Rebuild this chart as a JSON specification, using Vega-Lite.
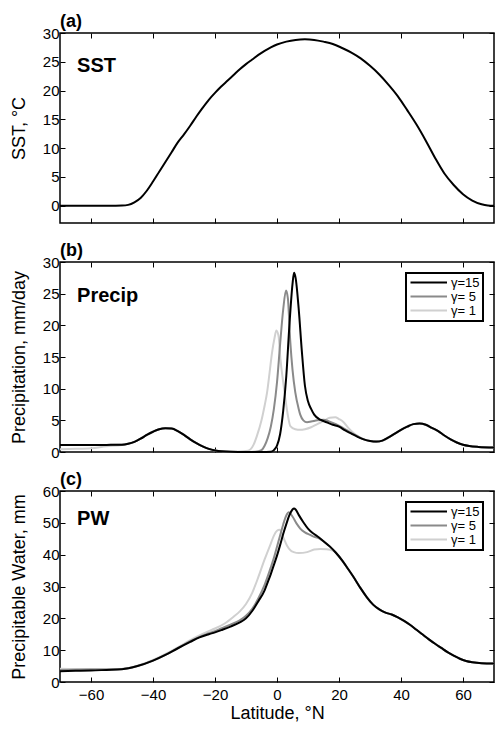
{
  "$schema": "https://vega.github.io/schema/vega-lite/v6.json",
  "background": "white",
  "padding": {"left": 9, "top": 12, "right": 1, "bottom": 2},
  "spacing": 39,
  "bounds": "flush",
  "config": {
    "font": "Liberation Sans",
    "view": {"stroke": "black", "strokeWidth": 1.5},
    "axis": {"grid": false, "domain": false, "tickColor": "black", "tickSize": -5, "tickWidth": 1, "labelColor": "black", "labelFontSize": 15, "titleFontSize": 18, "titleFontWeight": "normal", "titleColor": "black", "labelFont": "Liberation Sans", "titleFont": "Liberation Sans", "labelPadding": 6, "titlePadding": 14},
    "title": {"anchor": "start", "fontSize": 18, "fontWeight": "bold", "font": "Liberation Sans", "offset": -5, "frame": "group", "color": "black"},
    "legend": {"orient": "top-right", "offset": 11, "title": null, "strokeColor": "black", "strokeWidth": 2, "padding": 3, "labelFontSize": 13, "labelFont": "Liberation Sans", "labelColor": "black", "rowPadding": 0, "symbolType": "M-1,0H6.3", "symbolSize": 100, "symbolStrokeWidth": 2, "labelOffset": 29}
  },
  "datasets": {
    "sst": [
      {"lat":-70,"sst":0},{"lat":-60,"sst":0},{"lat":-52,"sst":0},{"lat":-50,"sst":0.02},{"lat":-48,"sst":0.15},{"lat":-46,"sst":0.6},{"lat":-44,"sst":1.35},{"lat":-42,"sst":2.6},{"lat":-40,"sst":4.2},{"lat":-38,"sst":5.9},{"lat":-36,"sst":7.6},{"lat":-34,"sst":9.3},{"lat":-32,"sst":11.0},{"lat":-30,"sst":12.4},{"lat":-28,"sst":13.9},{"lat":-26,"sst":15.5},{"lat":-24,"sst":17.0},{"lat":-22,"sst":18.4},{"lat":-20,"sst":19.6},{"lat":-18,"sst":20.7},{"lat":-16,"sst":21.7},{"lat":-14,"sst":22.7},{"lat":-12,"sst":23.7},{"lat":-10,"sst":24.6},{"lat":-8,"sst":25.4},{"lat":-6,"sst":26.2},{"lat":-4,"sst":26.9},{"lat":-2,"sst":27.5},{"lat":0,"sst":28.0},{"lat":3,"sst":28.5},{"lat":6,"sst":28.8},{"lat":9,"sst":28.9},{"lat":12,"sst":28.8},{"lat":15,"sst":28.5},{"lat":18,"sst":28.1},{"lat":21,"sst":27.4},{"lat":24,"sst":26.6},{"lat":27,"sst":25.6},{"lat":30,"sst":24.3},{"lat":33,"sst":22.8},{"lat":36,"sst":21.0},{"lat":39,"sst":19.0},{"lat":42,"sst":16.6},{"lat":45,"sst":14.1},{"lat":48,"sst":11.3},{"lat":51,"sst":8.3},{"lat":54,"sst":5.6},{"lat":57,"sst":3.6},{"lat":60,"sst":2.0},{"lat":63,"sst":0.9},{"lat":66,"sst":0.25},{"lat":68,"sst":0.05},{"lat":70,"sst":0}
    ],
    "precip": [
      {"g":"γ= 1","lat":-70,"v":0.45},{"g":"γ= 1","lat":-65,"v":0.5},{"g":"γ= 1","lat":-60,"v":0.6},{"g":"γ= 1","lat":-55,"v":0.9},{"g":"γ= 1","lat":-50,"v":1.12},{"g":"γ= 1","lat":-48,"v":1.3},{"g":"γ= 1","lat":-46,"v":1.6},{"g":"γ= 1","lat":-44,"v":2.1},{"g":"γ= 1","lat":-42,"v":2.7},{"g":"γ= 1","lat":-40,"v":3.2},{"g":"γ= 1","lat":-38,"v":3.6},{"g":"γ= 1","lat":-36,"v":3.75},{"g":"γ= 1","lat":-34,"v":3.7},{"g":"γ= 1","lat":-32,"v":3.3},{"g":"γ= 1","lat":-30,"v":2.7},{"g":"γ= 1","lat":-28,"v":2.0},{"g":"γ= 1","lat":-26,"v":1.4},{"g":"γ= 1","lat":-24,"v":0.9},{"g":"γ= 1","lat":-22,"v":0.5},{"g":"γ= 1","lat":-20,"v":0.25},{"g":"γ= 1","lat":-18,"v":0.15},{"g":"γ= 1","lat":-15,"v":0.05},{"g":"γ= 1","lat":-12,"v":0.08},{"g":"γ= 1","lat":-10,"v":0.15},{"g":"γ= 1","lat":-8.6,"v":0.4},{"g":"γ= 1","lat":-7.5,"v":1.2},{"g":"γ= 1","lat":-6.5,"v":2.5},{"g":"γ= 1","lat":-5,"v":5},{"g":"γ= 1","lat":-4,"v":7.3},{"g":"γ= 1","lat":-3.2,"v":9.4},{"g":"γ= 1","lat":-2.4,"v":12.5},{"g":"γ= 1","lat":-1.6,"v":15.7},{"g":"γ= 1","lat":-0.8,"v":18},{"g":"γ= 1","lat":-0.2,"v":19.2},{"g":"γ= 1","lat":0.5,"v":18.3},{"g":"γ= 1","lat":1.1,"v":14.7},{"g":"γ= 1","lat":2,"v":11},{"g":"γ= 1","lat":2.7,"v":8.4},{"g":"γ= 1","lat":3.5,"v":5.8},{"g":"γ= 1","lat":4.3,"v":4.1},{"g":"γ= 1","lat":5.9,"v":3.6},{"g":"γ= 1","lat":7.5,"v":3.5},{"g":"γ= 1","lat":9,"v":3.6},{"g":"γ= 1","lat":11,"v":3.9},{"g":"γ= 1","lat":13,"v":4.4},{"g":"γ= 1","lat":15,"v":4.9},{"g":"γ= 1","lat":17,"v":5.4},{"g":"γ= 1","lat":18.8,"v":5.5},{"g":"γ= 1","lat":20,"v":5.2},{"g":"γ= 1","lat":21.5,"v":4.7},{"g":"γ= 1","lat":23,"v":3.8},{"g":"γ= 1","lat":24.7,"v":3.0},{"g":"γ= 1","lat":26,"v":2.5},{"g":"γ= 1","lat":28,"v":2.0},{"g":"γ= 1","lat":30,"v":1.75},{"g":"γ= 1","lat":32,"v":1.6},{"g":"γ= 1","lat":34,"v":1.8},{"g":"γ= 1","lat":36,"v":2.3},{"g":"γ= 1","lat":38,"v":2.9},{"g":"γ= 1","lat":40,"v":3.5},{"g":"γ= 1","lat":42,"v":4.0},{"g":"γ= 1","lat":44,"v":4.4},{"g":"γ= 1","lat":46,"v":4.5},{"g":"γ= 1","lat":48,"v":4.3},{"g":"γ= 1","lat":50,"v":3.8},{"g":"γ= 1","lat":52,"v":3.3},{"g":"γ= 1","lat":54,"v":2.6},{"g":"γ= 1","lat":56,"v":2.0},{"g":"γ= 1","lat":58,"v":1.5},{"g":"γ= 1","lat":60,"v":1.15},{"g":"γ= 1","lat":62,"v":0.95},{"g":"γ= 1","lat":65,"v":0.8},{"g":"γ= 1","lat":70,"v":0.7},
      {"g":"γ= 5","lat":-70,"v":1.1},{"g":"γ= 5","lat":-60,"v":1.1},{"g":"γ= 5","lat":-50,"v":1.15},{"g":"γ= 5","lat":-48,"v":1.3},{"g":"γ= 5","lat":-46,"v":1.6},{"g":"γ= 5","lat":-44,"v":2.1},{"g":"γ= 5","lat":-42,"v":2.7},{"g":"γ= 5","lat":-40,"v":3.2},{"g":"γ= 5","lat":-38,"v":3.6},{"g":"γ= 5","lat":-36,"v":3.75},{"g":"γ= 5","lat":-34,"v":3.7},{"g":"γ= 5","lat":-32,"v":3.3},{"g":"γ= 5","lat":-30,"v":2.7},{"g":"γ= 5","lat":-28,"v":2.0},{"g":"γ= 5","lat":-26,"v":1.4},{"g":"γ= 5","lat":-24,"v":0.9},{"g":"γ= 5","lat":-22,"v":0.5},{"g":"γ= 5","lat":-20,"v":0.25},{"g":"γ= 5","lat":-18,"v":0.1},{"g":"γ= 5","lat":-15,"v":0.03},{"g":"γ= 5","lat":-10,"v":0},{"g":"γ= 5","lat":-7,"v":0.05},{"g":"γ= 5","lat":-5,"v":0.3},{"g":"γ= 5","lat":-4,"v":1.0},{"g":"γ= 5","lat":-3,"v":2.2},{"g":"γ= 5","lat":-2,"v":4.0},{"g":"γ= 5","lat":-1,"v":6.8},{"g":"γ= 5","lat":0,"v":11},{"g":"γ= 5","lat":1,"v":17},{"g":"γ= 5","lat":2,"v":22.5},{"g":"γ= 5","lat":2.9,"v":25.5},{"g":"γ= 5","lat":3.5,"v":24.3},{"g":"γ= 5","lat":4.3,"v":17.3},{"g":"γ= 5","lat":5,"v":13},{"g":"γ= 5","lat":5.9,"v":9.4},{"g":"γ= 5","lat":7,"v":6.8},{"g":"γ= 5","lat":7.5,"v":5.9},{"g":"γ= 5","lat":8.5,"v":5.0},{"g":"γ= 5","lat":9.7,"v":4.7},{"g":"γ= 5","lat":11,"v":4.8},{"g":"γ= 5","lat":13,"v":5.0},{"g":"γ= 5","lat":15,"v":5.1},{"g":"γ= 5","lat":17,"v":4.8},{"g":"γ= 5","lat":19,"v":4.4},{"g":"γ= 5","lat":21,"v":3.9},{"g":"γ= 5","lat":24,"v":3.0},{"g":"γ= 5","lat":26,"v":2.5},{"g":"γ= 5","lat":28,"v":2.0},{"g":"γ= 5","lat":30,"v":1.75},{"g":"γ= 5","lat":32,"v":1.62},{"g":"γ= 5","lat":34,"v":1.8},{"g":"γ= 5","lat":36,"v":2.3},{"g":"γ= 5","lat":38,"v":2.9},{"g":"γ= 5","lat":40,"v":3.5},{"g":"γ= 5","lat":42,"v":4.0},{"g":"γ= 5","lat":44,"v":4.4},{"g":"γ= 5","lat":46,"v":4.5},{"g":"γ= 5","lat":48,"v":4.3},{"g":"γ= 5","lat":50,"v":3.8},{"g":"γ= 5","lat":52,"v":3.3},{"g":"γ= 5","lat":54,"v":2.6},{"g":"γ= 5","lat":56,"v":2.0},{"g":"γ= 5","lat":58,"v":1.5},{"g":"γ= 5","lat":60,"v":1.15},{"g":"γ= 5","lat":62,"v":0.95},{"g":"γ= 5","lat":65,"v":0.8},{"g":"γ= 5","lat":70,"v":0.7},
      {"g":"γ=15","lat":-70,"v":1.1},{"g":"γ=15","lat":-65,"v":1.1},{"g":"γ=15","lat":-60,"v":1.1},{"g":"γ=15","lat":-55,"v":1.12},{"g":"γ=15","lat":-50,"v":1.15},{"g":"γ=15","lat":-48,"v":1.3},{"g":"γ=15","lat":-46,"v":1.6},{"g":"γ=15","lat":-44,"v":2.1},{"g":"γ=15","lat":-42,"v":2.7},{"g":"γ=15","lat":-40,"v":3.2},{"g":"γ=15","lat":-38,"v":3.6},{"g":"γ=15","lat":-36,"v":3.75},{"g":"γ=15","lat":-34,"v":3.7},{"g":"γ=15","lat":-32,"v":3.3},{"g":"γ=15","lat":-30,"v":2.7},{"g":"γ=15","lat":-28,"v":2.0},{"g":"γ=15","lat":-26,"v":1.4},{"g":"γ=15","lat":-24,"v":0.9},{"g":"γ=15","lat":-22,"v":0.5},{"g":"γ=15","lat":-20,"v":0.25},{"g":"γ=15","lat":-18,"v":0.1},{"g":"γ=15","lat":-15,"v":0.03},{"g":"γ=15","lat":-10,"v":0},{"g":"γ=15","lat":-5,"v":0},{"g":"γ=15","lat":-2,"v":0.05},{"g":"γ=15","lat":-1,"v":0.3},{"g":"γ=15","lat":0,"v":1.0},{"g":"γ=15","lat":1,"v":2.8},{"g":"γ=15","lat":2,"v":6.5},{"g":"γ=15","lat":3,"v":12},{"g":"γ=15","lat":4,"v":20},{"g":"γ=15","lat":5,"v":26.5},{"g":"γ=15","lat":5.5,"v":28.3},{"g":"γ=15","lat":6,"v":27.5},{"g":"γ=15","lat":7,"v":22.6},{"g":"γ=15","lat":8,"v":16},{"g":"γ=15","lat":9,"v":10.5},{"g":"γ=15","lat":10,"v":8},{"g":"γ=15","lat":11,"v":6.8},{"g":"γ=15","lat":12,"v":5.9},{"g":"γ=15","lat":14,"v":5.1},{"g":"γ=15","lat":16,"v":4.7},{"g":"γ=15","lat":18,"v":4.3},{"g":"γ=15","lat":20,"v":4.0},{"g":"γ=15","lat":22,"v":3.4},{"g":"γ=15","lat":24,"v":2.9},{"g":"γ=15","lat":26,"v":2.4},{"g":"γ=15","lat":28,"v":2.0},{"g":"γ=15","lat":30,"v":1.75},{"g":"γ=15","lat":32,"v":1.65},{"g":"γ=15","lat":34,"v":1.8},{"g":"γ=15","lat":36,"v":2.3},{"g":"γ=15","lat":38,"v":2.9},{"g":"γ=15","lat":40,"v":3.5},{"g":"γ=15","lat":42,"v":4.0},{"g":"γ=15","lat":44,"v":4.4},{"g":"γ=15","lat":46,"v":4.5},{"g":"γ=15","lat":48,"v":4.3},{"g":"γ=15","lat":50,"v":3.8},{"g":"γ=15","lat":52,"v":3.3},{"g":"γ=15","lat":54,"v":2.6},{"g":"γ=15","lat":56,"v":2.0},{"g":"γ=15","lat":58,"v":1.5},{"g":"γ=15","lat":60,"v":1.15},{"g":"γ=15","lat":62,"v":0.95},{"g":"γ=15","lat":65,"v":0.8},{"g":"γ=15","lat":70,"v":0.7}
    ],
    "pw": [
      {"g":"γ= 1","lat":-70,"v":4.2},{"g":"γ= 1","lat":-60,"v":4.1},{"g":"γ= 1","lat":-50,"v":4.1},{"g":"γ= 1","lat":-45,"v":5.1},{"g":"γ= 1","lat":-40,"v":6.9},{"g":"γ= 1","lat":-35,"v":9.3},{"g":"γ= 1","lat":-30,"v":12.0},{"g":"γ= 1","lat":-26,"v":14.2},{"g":"γ= 1","lat":-22,"v":16.0},{"g":"γ= 1","lat":-20,"v":16.8},{"g":"γ= 1","lat":-17,"v":18.3},{"g":"γ= 1","lat":-14,"v":20.5},{"g":"γ= 1","lat":-12,"v":22.2},{"g":"γ= 1","lat":-10,"v":24.5},{"g":"γ= 1","lat":-8,"v":28},{"g":"γ= 1","lat":-6,"v":33},{"g":"γ= 1","lat":-4,"v":38.5},{"g":"γ= 1","lat":-2,"v":43.5},{"g":"γ= 1","lat":-1,"v":46},{"g":"γ= 1","lat":0,"v":47.5},{"g":"γ= 1","lat":0.8,"v":47.8},{"g":"γ= 1","lat":2,"v":45.5},{"g":"γ= 1","lat":3.2,"v":42.9},{"g":"γ= 1","lat":4.5,"v":41.2},{"g":"γ= 1","lat":5.4,"v":40.8},{"g":"γ= 1","lat":7,"v":40.5},{"g":"γ= 1","lat":9.7,"v":40.8},{"g":"γ= 1","lat":12,"v":41.6},{"g":"γ= 1","lat":14,"v":41.8},{"g":"γ= 1","lat":16,"v":41.7},{"g":"γ= 1","lat":18,"v":41.3},{"g":"γ= 1","lat":19,"v":40.6},{"g":"γ= 1","lat":21,"v":38.2},{"g":"γ= 1","lat":23,"v":35.4},{"g":"γ= 1","lat":25,"v":32.5},{"g":"γ= 1","lat":27,"v":29.4},{"g":"γ= 1","lat":29,"v":26.6},{"g":"γ= 1","lat":31,"v":24.3},{"g":"γ= 1","lat":33,"v":22.8},{"g":"γ= 1","lat":35,"v":21.8},{"g":"γ= 1","lat":37,"v":21.2},{"g":"γ= 1","lat":39,"v":20.3},{"g":"γ= 1","lat":41,"v":19.2},{"g":"γ= 1","lat":43,"v":17.9},{"g":"γ= 1","lat":45,"v":16.4},{"g":"γ= 1","lat":47,"v":14.9},{"g":"γ= 1","lat":49,"v":13.4},{"g":"γ= 1","lat":51,"v":12.0},{"g":"γ= 1","lat":53,"v":10.7},{"g":"γ= 1","lat":55,"v":9.4},{"g":"γ= 1","lat":57,"v":8.3},{"g":"γ= 1","lat":59,"v":7.3},{"g":"γ= 1","lat":61,"v":6.6},{"g":"γ= 1","lat":63,"v":6.2},{"g":"γ= 1","lat":66,"v":5.9},{"g":"γ= 1","lat":70,"v":5.8},
      {"g":"γ= 5","lat":-70,"v":3.8},{"g":"γ= 5","lat":-60,"v":3.9},{"g":"γ= 5","lat":-50,"v":4.1},{"g":"γ= 5","lat":-45,"v":5.0},{"g":"γ= 5","lat":-40,"v":6.7},{"g":"γ= 5","lat":-36,"v":8.5},{"g":"γ= 5","lat":-32,"v":10.6},{"g":"γ= 5","lat":-28,"v":12.8},{"g":"γ= 5","lat":-25,"v":14.2},{"g":"γ= 5","lat":-22,"v":15.3},{"g":"γ= 5","lat":-20,"v":16.0},{"g":"γ= 5","lat":-18,"v":16.8},{"g":"γ= 5","lat":-15,"v":18.0},{"g":"γ= 5","lat":-12,"v":19.4},{"g":"γ= 5","lat":-10,"v":20.8},{"g":"γ= 5","lat":-8,"v":23.0},{"g":"γ= 5","lat":-6,"v":26.3},{"g":"γ= 5","lat":-4,"v":30.5},{"g":"γ= 5","lat":-2,"v":36},{"g":"γ= 5","lat":-1,"v":39},{"g":"γ= 5","lat":0,"v":42.5},{"g":"γ= 5","lat":1,"v":46},{"g":"γ= 5","lat":2,"v":49.5},{"g":"γ= 5","lat":3,"v":52.3},{"g":"γ= 5","lat":3.8,"v":53.3},{"g":"γ= 5","lat":5,"v":52.0},{"g":"γ= 5","lat":6.5,"v":49.5},{"g":"γ= 5","lat":7.5,"v":48.2},{"g":"γ= 5","lat":9,"v":47},{"g":"γ= 5","lat":10.7,"v":46.2},{"g":"γ= 5","lat":12,"v":45.6},{"g":"γ= 5","lat":13,"v":45.4},{"g":"γ= 5","lat":15,"v":44.2},{"g":"γ= 5","lat":17,"v":42.6},{"g":"γ= 5","lat":19,"v":40.6},{"g":"γ= 5","lat":21,"v":38.2},{"g":"γ= 5","lat":23,"v":35.4},{"g":"γ= 5","lat":25,"v":32.5},{"g":"γ= 5","lat":27,"v":29.4},{"g":"γ= 5","lat":29,"v":26.6},{"g":"γ= 5","lat":31,"v":24.3},{"g":"γ= 5","lat":33,"v":22.8},{"g":"γ= 5","lat":35,"v":21.8},{"g":"γ= 5","lat":37,"v":21.2},{"g":"γ= 5","lat":39,"v":20.3},{"g":"γ= 5","lat":41,"v":19.2},{"g":"γ= 5","lat":43,"v":17.9},{"g":"γ= 5","lat":45,"v":16.4},{"g":"γ= 5","lat":47,"v":14.9},{"g":"γ= 5","lat":49,"v":13.4},{"g":"γ= 5","lat":51,"v":12.0},{"g":"γ= 5","lat":53,"v":10.7},{"g":"γ= 5","lat":55,"v":9.4},{"g":"γ= 5","lat":57,"v":8.3},{"g":"γ= 5","lat":59,"v":7.3},{"g":"γ= 5","lat":61,"v":6.6},{"g":"γ= 5","lat":63,"v":6.2},{"g":"γ= 5","lat":66,"v":5.9},{"g":"γ= 5","lat":70,"v":5.8},
      {"g":"γ=15","lat":-70,"v":3.4},{"g":"γ=15","lat":-65,"v":3.5},{"g":"γ=15","lat":-60,"v":3.6},{"g":"γ=15","lat":-55,"v":3.8},{"g":"γ=15","lat":-50,"v":4.0},{"g":"γ=15","lat":-45,"v":5.0},{"g":"γ=15","lat":-40,"v":6.7},{"g":"γ=15","lat":-36,"v":8.5},{"g":"γ=15","lat":-32,"v":10.6},{"g":"γ=15","lat":-28,"v":12.6},{"g":"γ=15","lat":-25,"v":14.0},{"g":"γ=15","lat":-22,"v":15.0},{"g":"γ=15","lat":-20,"v":15.6},{"g":"γ=15","lat":-18,"v":16.3},{"g":"γ=15","lat":-15,"v":17.4},{"g":"γ=15","lat":-12,"v":18.7},{"g":"γ=15","lat":-10,"v":20.0},{"g":"γ=15","lat":-8,"v":22.3},{"g":"γ=15","lat":-6,"v":25.4},{"g":"γ=15","lat":-4,"v":28.8},{"g":"γ=15","lat":-3,"v":31.3},{"g":"γ=15","lat":-2,"v":33.9},{"g":"γ=15","lat":-1,"v":36.8},{"g":"γ=15","lat":0,"v":39.7},{"g":"γ=15","lat":1,"v":43},{"g":"γ=15","lat":2,"v":46.5},{"g":"γ=15","lat":3,"v":49.6},{"g":"γ=15","lat":4,"v":52.4},{"g":"γ=15","lat":5,"v":54.2},{"g":"γ=15","lat":5.5,"v":54.5},{"g":"γ=15","lat":6,"v":54.2},{"g":"γ=15","lat":7,"v":52.5},{"g":"γ=15","lat":8.5,"v":50.2},{"g":"γ=15","lat":10,"v":48.2},{"g":"γ=15","lat":11.5,"v":46.8},{"g":"γ=15","lat":13,"v":45.8},{"g":"γ=15","lat":15,"v":44.2},{"g":"γ=15","lat":17,"v":42.6},{"g":"γ=15","lat":19,"v":40.6},{"g":"γ=15","lat":21,"v":38.2},{"g":"γ=15","lat":23,"v":35.4},{"g":"γ=15","lat":25,"v":32.5},{"g":"γ=15","lat":27,"v":29.4},{"g":"γ=15","lat":29,"v":26.6},{"g":"γ=15","lat":31,"v":24.3},{"g":"γ=15","lat":33,"v":22.8},{"g":"γ=15","lat":35,"v":21.8},{"g":"γ=15","lat":37,"v":21.2},{"g":"γ=15","lat":39,"v":20.3},{"g":"γ=15","lat":41,"v":19.2},{"g":"γ=15","lat":43,"v":17.9},{"g":"γ=15","lat":45,"v":16.4},{"g":"γ=15","lat":47,"v":14.9},{"g":"γ=15","lat":49,"v":13.4},{"g":"γ=15","lat":51,"v":12.0},{"g":"γ=15","lat":53,"v":10.7},{"g":"γ=15","lat":55,"v":9.4},{"g":"γ=15","lat":57,"v":8.3},{"g":"γ=15","lat":59,"v":7.3},{"g":"γ=15","lat":61,"v":6.6},{"g":"γ=15","lat":63,"v":6.2},{"g":"γ=15","lat":66,"v":5.9},{"g":"γ=15","lat":70,"v":5.8}
    ]
  },
  "resolve": {"scale": {"color": "independent"}, "legend": {"color": "independent"}},
  "vconcat": [
    {
      "title": "(a)",
      "width": 434, "height": 190,
      "layer": [
        {
          "data": {"name": "sst"},
          "mark": {"type": "line", "color": "black", "strokeWidth": 2, "interpolate": "monotone"},
          "encoding": {
            "x": {"field": "lat", "type": "quantitative", "scale": {"domain": [-70, 70], "nice": false, "zero": false}, "axis": {"orient": "bottom", "values": [-60,-40,-20,0,20,40,60], "labels": false, "title": null}},
            "y": {"field": "sst", "type": "quantitative", "scale": {"domain": [-3, 30], "nice": false, "zero": false}, "axis": {"orient": "left", "values": [0,5,10,15,20,25,30], "title": "SST, °C"}}
          }
        },
        {
          "data": {"values": [{"label": "SST"}]},
          "mark": {"type": "text", "fontSize": 20, "fontWeight": "bold", "align": "left", "baseline": "alphabetic", "color": "black"},
          "encoding": {
            "text": {"field": "label"},
            "x": {"datum": -64.5, "type": "quantitative", "axis": {"orient": "top", "values": [-60,-40,-20,0,20,40,60], "labels": false, "title": null}},
            "y": {"datum": 23.2, "type": "quantitative", "axis": {"orient": "right", "values": [0,5,10,15,20,25,30], "labels": false, "title": null}}
          }
        }
      ],
      "resolve": {"axis": {"x": "independent", "y": "independent"}}
    },
    {
      "title": "(b)",
      "width": 434, "height": 190,
      "layer": [
        {
          "data": {"name": "precip"},
          "mark": {"type": "line", "strokeWidth": 2, "interpolate": "monotone"},
          "encoding": {
            "x": {"field": "lat", "type": "quantitative", "scale": {"domain": [-70, 70], "nice": false, "zero": false}, "axis": {"orient": "bottom", "values": [-60,-40,-20,0,20,40,60], "labels": false, "title": null}},
            "y": {"field": "v", "type": "quantitative", "scale": {"domain": [0, 30], "nice": false, "zero": false}, "axis": {"orient": "left", "values": [0,5,10,15,20,25,30], "title": "Precipitation, mm/day"}},
            "color": {"field": "g", "type": "nominal", "scale": {"domain": ["γ=15", "γ= 5", "γ= 1"], "range": ["#000000", "#8a8a8a", "#d0d0d0"]}}
          }
        },
        {
          "data": {"values": [{"label": "Precip"}]},
          "mark": {"type": "text", "fontSize": 20, "fontWeight": "bold", "align": "left", "baseline": "alphabetic", "color": "black"},
          "encoding": {
            "text": {"field": "label"},
            "x": {"datum": -64.5, "type": "quantitative", "axis": {"orient": "top", "values": [-60,-40,-20,0,20,40,60], "labels": false, "title": null}},
            "y": {"datum": 23.7, "type": "quantitative", "axis": {"orient": "right", "values": [0,5,10,15,20,25,30], "labels": false, "title": null}}
          }
        }
      ],
      "resolve": {"axis": {"x": "independent", "y": "independent"}}
    },
    {
      "title": "(c)",
      "width": 434, "height": 191,
      "layer": [
        {
          "data": {"name": "pw"},
          "mark": {"type": "line", "strokeWidth": 2, "interpolate": "monotone"},
          "encoding": {
            "x": {"field": "lat", "type": "quantitative", "scale": {"domain": [-70, 70], "nice": false, "zero": false}, "axis": {"orient": "bottom", "values": [-60,-40,-20,0,20,40,60], "title": "Latitude, °N", "labelPadding": 10, "titlePadding": 2}},
            "y": {"field": "v", "type": "quantitative", "scale": {"domain": [0, 60], "nice": false, "zero": false}, "axis": {"orient": "left", "values": [0,10,20,30,40,50,60], "title": "Precipitable Water, mm"}},
            "color": {"field": "g", "type": "nominal", "scale": {"domain": ["γ=15", "γ= 5", "γ= 1"], "range": ["#000000", "#8a8a8a", "#d0d0d0"]}}
          }
        },
        {
          "data": {"values": [{"label": "PW"}]},
          "mark": {"type": "text", "fontSize": 20, "fontWeight": "bold", "align": "left", "baseline": "alphabetic", "color": "black"},
          "encoding": {
            "text": {"field": "label"},
            "x": {"datum": -64.5, "type": "quantitative", "axis": {"orient": "top", "values": [-60,-40,-20,0,20,40,60], "labels": false, "title": null}},
            "y": {"datum": 49.2, "type": "quantitative", "axis": {"orient": "right", "values": [0,10,20,30,40,50,60], "labels": false, "title": null}}
          }
        }
      ],
      "resolve": {"axis": {"x": "independent", "y": "independent"}}
    }
  ]
}
